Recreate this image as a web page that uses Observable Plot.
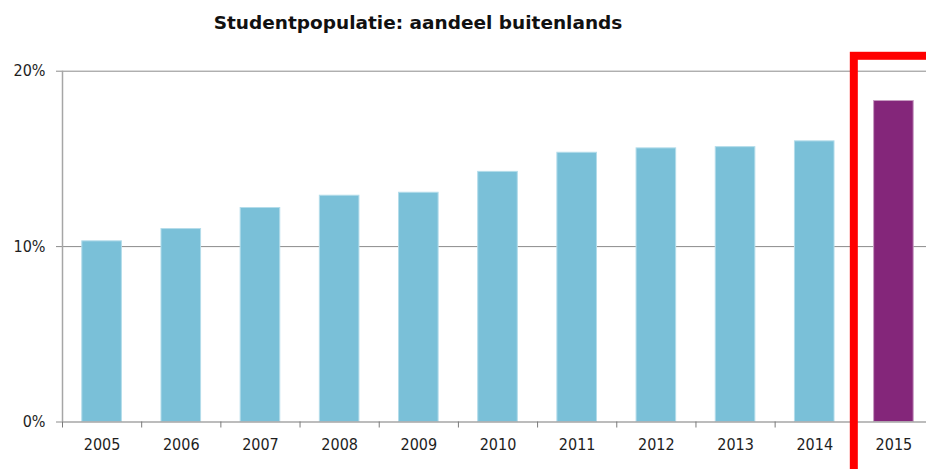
<!DOCTYPE html>
<html><head><meta charset="utf-8">
<script src="https://cdn.jsdelivr.net/npm/d3@7"></script>
<script src="https://cdn.jsdelivr.net/npm/@observablehq/plot@0.6"></script>
<style>
html,body{margin:0;padding:0;background:#fff;overflow:hidden;}
#title{height:40px;box-sizing:border-box;padding-top:12px;width:836px;text-align:center;font-family:"DejaVu Sans",sans-serif;font-weight:bold;font-size:18.5px;line-height:22px;color:#111;}
#chart svg{overflow:hidden !important;display:block;}
</style></head><body>
<div id="title"></div>
<div id="chart"></div>
<script>
const title = "Studentpopulatie: aandeel buitenlands";
const years = [2005, 2006, 2007, 2008, 2009, 2010, 2011, 2012, 2013, 2014, 2015];
const shares = [10.3, 11.0, 12.2, 12.9, 13.07, 14.26, 15.35, 15.6, 15.67, 16.0, 18.3];
const highlightYear = 2015;
const yTicks = [0, 10, 20];
const gridValues = [10, 20];

document.getElementById("title").textContent = title;
const data = years.map((year, i) => ({year, share: shares[i]}));
const boundaries = years.map(y => y - 0.5);

const plot = Plot.plot({
  width: 926,
  height: 429,
  marginLeft: 62,
  marginRight: -7,
  marginTop: 30.7,
  marginBottom: 47.5,
  x: {domain: [years[0] - 0.5, highlightYear + 0.5], label: null},
  y: {domain: [0, 20], label: null},
  style: {fontFamily: '"DejaVu Sans Condensed","DejaVu Sans",sans-serif', fontSize: "16px", color: "#1e1e1e", background: "#fff"},
  marks: [
    Plot.ruleY(gridValues, {stroke: "#8c8c8c", strokeOpacity: 1, x1: years[0] - 0.5, x2: highlightYear + 1}),
    Plot.rectY(data.filter(d => d.year !== highlightYear), {x1: d => d.year - 0.25, x2: d => d.year + 0.25, y: "share", fill: "#7ac0d8", stroke: "#b3dcea", strokeWidth: 1}),
    Plot.rectY(data.filter(d => d.year === highlightYear), {x1: d => d.year - 0.25, x2: d => d.year + 0.25, y: "share", fill: "#84267a", stroke: "#c79cc2", strokeWidth: 1}),
    Plot.axisY({ticks: yTicks, tickFormat: d => d + "%", tickSize: 6, tickPadding: 11, stroke: "#8c8c8c", strokeOpacity: 1, label: null}),
    Plot.ruleX([years[0] - 0.5], {stroke: "#a6a6a6", strokeWidth: 1.5}),
    Plot.ruleY([0], {stroke: "#a6a6a6", strokeWidth: 1.5, x1: years[0] - 0.5, x2: highlightYear + 1}),
    Plot.axisX({ticks: boundaries, tickFormat: () => "", tickSize: 6, stroke: "#7a7a7a", strokeOpacity: 1, label: null}),
    Plot.axisX({ticks: years, tickFormat: d => String(d), tickSize: 0, tickPadding: 16.5, label: null}),
    Plot.rect([highlightYear], {x1: d => d - 0.5, x2: d => d + 1.5, y1: -5, y2: 20.85, fill: "none", stroke: "#ff0000", strokeWidth: 8})
  ]
});
document.getElementById("chart").appendChild(plot);
</script>
</body></html>
